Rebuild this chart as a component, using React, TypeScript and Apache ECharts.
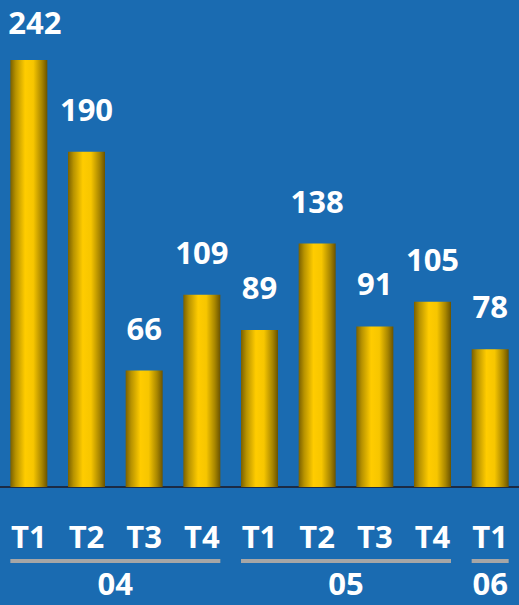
import React, { useEffect, useRef } from "react";
import * as echarts from "echarts";

const categories = ["T1", "T2", "T3", "T4", "T1", "T2", "T3", "T4", "T1"];
const values = [242, 190, 66, 109, 89, 138, 91, 105, 78];
// groups: [first category index, last category index, label]
const groupStarts = [0, 4, 8];
const groupEnds = [3, 7, 8];
const groupLabels = ["04", "05", "06"];

const FONT = "'Open Sans', 'DejaVu Sans', sans-serif";
const BAR_W = 37;

export default function App() {
  const ref = useRef<HTMLDivElement>(null);
  useEffect(() => {
    if (!ref.current) return;
    const chart = echarts.init(ref.current, undefined, { renderer: "svg" });
    const groupData = groupStarts.map((s, i) => [s, groupEnds[i], groupLabels[i]]);
    const barData = values.map((v, i) =>
      i === 0 ? { value: v, label: { offset: [6, 5] } } : v
    );
    chart.setOption({
      animation: false,
      backgroundColor: "#1a6bb1",
      grid: { left: 0, right: 0, top: 0, bottom: 118, containLabel: false },
      xAxis: {
        type: "category",
        data: categories,
        axisLine: { show: true, lineStyle: { color: "#1b2b45", width: 2 } },
        axisTick: { show: false },
        axisLabel: {
          color: "#ffffff",
          fontFamily: FONT,
          fontWeight: "bold",
          fontSize: 31,
          lineHeight: 31,
          margin: 33,
        },
      },
      yAxis: {
        type: "value",
        min: 0,
        max: 276,
        show: false,
        splitLine: { show: false },
      },
      series: [
        {
          type: "bar",
          data: barData,
          barWidth: BAR_W,
          itemStyle: {
            color: new echarts.graphic.LinearGradient(0, 0, 1, 0, [
              { offset: 0, color: "#7a6000" },
              { offset: 0.15, color: "#b89300" },
              { offset: 0.4, color: "#ffcc00" },
              { offset: 0.62, color: "#f7c600" },
              { offset: 0.85, color: "#a88600" },
              { offset: 1, color: "#6a5300" },
            ]),
          },
          label: {
            show: true,
            position: "top",
            distance: 31,
            lineHeight: 24,
            color: "#ffffff",
            fontFamily: FONT,
            fontWeight: "bold",
            fontSize: 31,
          },
        },
        {
          type: "custom",
          clip: false,
          silent: true,
          data: groupData,
          encode: { x: [0, 1] },
          renderItem: (params: any, api: any) => {
            const s = api.value(0);
            const e = api.value(1);
            const label = groupLabels[params.dataIndex];
            const p0 = api.coord([s, 0]);
            const p1 = api.coord([e, 0]);
            const x0 = p0[0] - BAR_W / 2;
            const x1 = p1[0] + BAR_W / 2;
            const y = p0[1];
            return {
              type: "group",
              children: [
                {
                  type: "line",
                  shape: { x1: x0, y1: y + 74, x2: x1, y2: y + 74 },
                  style: { stroke: "#a6a6a6", lineWidth: 4 },
                },
                {
                  type: "text",
                  x: (x0 + x1) / 2,
                  y: y + 96,
                  style: {
                    text: label,
                    fill: "#ffffff",
                    font: `bold 31px ${FONT}`,
                    align: "center",
                    verticalAlign: "middle",
                  },
                },
              ],
            };
          },
        },
      ],
    });
    return () => chart.dispose();
  }, []);
  return (
    <div
      ref={ref}
      style={{ position: "fixed", left: 0, top: 0, width: 519, height: 605 }}
    />
  );
}
